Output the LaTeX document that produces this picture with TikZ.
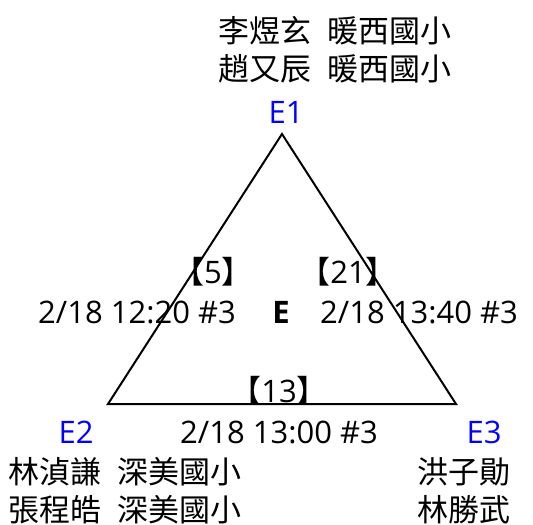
\documentclass[tikz,border=0pt]{standalone}
\usepackage{fontspec}
\setmainfont{Open Sans}
\newfontfamily\cjk[WordSpace=2.3]{Noto Sans CJK TC}
\usetikzlibrary{positioning}

\begin{document}
\begin{tikzpicture}[x=0.5pt, y=-0.5pt,
  every node/.style={inner sep=0pt, anchor=base},
  txt/.style={font=\fontsize{15.5}{18}\selectfont},
  zh/.style={font=\fontsize{15.5}{18}\selectfont\cjk},
  vtx/.style={txt, text=blue},
  edge/.style={line width=1pt}]
\path[use as bounding box] (0,0) rectangle (533,524);
% triangle
\coordinate (v1) at (282,134);
\coordinate (v2) at (108,404);
\coordinate (v3) at (456,404);
\draw[edge] (v1) -- (v2) -- (v3) -- cycle;
% vertex labels
\node[vtx] (e1) at (286,123) {E1};
\node[vtx] (e2) at (76,443) {E2};
\node[vtx] (e3) at (484,443) {E3};
\node[txt,font=\fontsize{15.5}{18}\selectfont\bfseries] (ctr) at (281,323) {E};
% players
\node[zh] (p1a) at (335,43) {李煜玄 暖西國小};
\node[zh] (p1b) at (335,81) {趙又辰 暖西國小};
\node[zh] (p2a) at (125,483) {林湞謙 深美國小};
\node[zh] (p2b) at (125,521) {張程皓 深美國小};
\node[zh] (p3a) at (464,483) {洪子勛};
\node[zh] (p3b) at (464,521) {林勝武};
% games
\node[txt] (g12n) at (213,283) {{\cjk 【}5{\cjk 】}};
\node[txt] (g12t) at (137,323) {2/18 12:20 \#3};
\node[txt] (g13n) at (348,283) {{\cjk 【}21{\cjk 】}};
\node[txt] (g13t) at (419,323) {2/18 13:40 \#3};
\node[txt] (g23n) at (279,402) {{\cjk 【}13{\cjk 】}};
\node[txt] (g23t) at (279,443) {2/18 13:00 \#3};
\end{tikzpicture}
\end{document}
